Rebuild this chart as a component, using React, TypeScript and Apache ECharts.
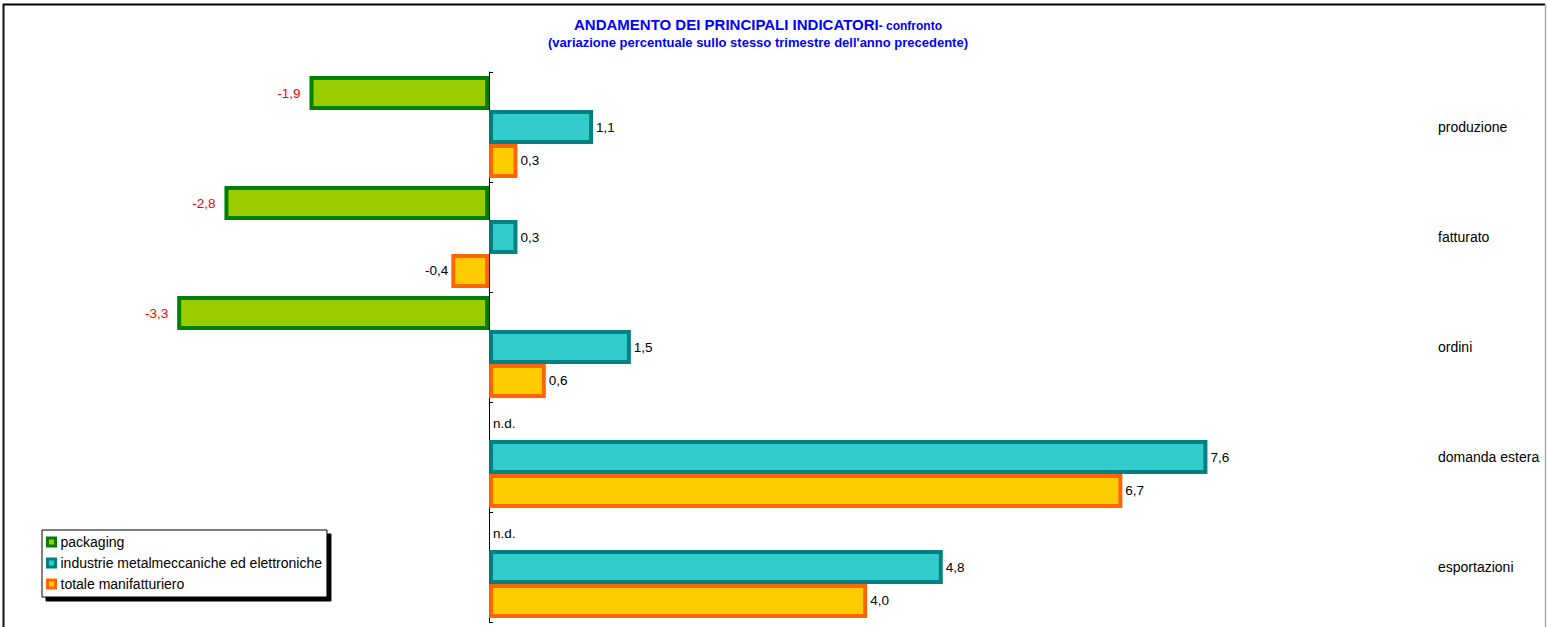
import React, { useEffect, useRef } from "react";
import * as echarts from "echarts";

const categories = ["produzione", "fatturato", "ordini", "domanda estera", "esportazioni"];
const packaging: (number | null)[] = [-1.9, -2.8, -3.3, null, null];
const metalmeccaniche: number[] = [1.1, 0.3, 1.5, 7.6, 4.8];
const totale: number[] = [0.3, -0.4, 0.6, 6.7, 4.0];
const seriesNames = ["packaging", "industrie metalmeccaniche ed elettroniche", "totale manifatturiero"];

const FONT = "'Liberation Sans', Arial, sans-serif";
const LABEL_SIZE = 13.5;
const fmt = (v: number) => v.toFixed(1).replace(".", ",");

function buildData(values: (number | null)[], negColor: string, negDistance: number) {
  return values.map((v) => {
    if (v === null) {
      return {
        value: 0,
        itemStyle: { color: "transparent", borderWidth: 0 },
        label: { show: true, position: "right", formatter: "n.d.", color: "#000", distance: 4 },
      };
    }
    return {
      value: v,
      label: {
        show: true,
        position: v < 0 ? "left" : "right",
        distance: v < 0 ? negDistance : 3,
        formatter: fmt(v),
        color: v < 0 ? negColor : "#000",
      },
    };
  });
}

export default function App() {
  const ref = useRef<HTMLDivElement>(null);
  useEffect(() => {
    if (!ref.current) return;
    const chart = echarts.init(ref.current, undefined, { renderer: "svg" });
    const styles = [
      { color: "#99CC00", borderColor: "#008000" },
      { color: "#33CCCC", borderColor: "#008080" },
      { color: "#FFCC00", borderColor: "#FF6600" },
    ];
    const datas = [
      buildData(packaging, "#FF0000", 9),
      buildData(metalmeccaniche, "#000", 3),
      buildData(totale, "#000", 3),
    ];
    chart.setOption({
      animation: false,
      backgroundColor: "#fff",
      textStyle: { fontFamily: FONT },
      title: {
        left: 758,
        textAlign: "center",
        top: 14,
        padding: 0,
        itemGap: 5,
        text: "{a|ANDAMENTO DEI PRINCIPALI INDICATORI}{b|- confronto}",
        subtext: "(variazione percentuale sullo stesso trimestre dell'anno precedente)",
        textStyle: {
          rich: {
            a: { fontSize: 15, fontWeight: "bold", color: "#0000FF", fontFamily: FONT, lineHeight: 18, verticalAlign: "bottom" },
            b: { fontSize: 12, fontWeight: "bold", color: "#0000FF", fontFamily: FONT, lineHeight: 15, verticalAlign: "bottom" },
          },
        },
        subtextStyle: { fontSize: 13, fontWeight: "bold", color: "#0000FF", fontFamily: FONT, lineHeight: 16 },
      },
      legend: {
        orient: "vertical",
        left: 42,
        top: 530,
        padding: [4, 5, 5, 4],
        itemGap: 5,
        itemWidth: 8,
        itemHeight: 8,
        backgroundColor: "#fff",
        borderColor: "#000",
        borderWidth: 1,
        borderRadius: 0,
        shadowColor: "#000",
        shadowOffsetX: 4,
        shadowOffsetY: 4,
        shadowBlur: 0,
        textStyle: { fontSize: 14, color: "#000", fontFamily: FONT, lineHeight: 16 },
        data: seriesNames.map((n, i) => ({
          name: n,
          icon: "rect",
          itemStyle: { color: styles[i].color, borderColor: styles[i].borderColor, borderWidth: 3 },
        })),
      },
      grid: { left: 16.5, right: 160, top: 72, bottom: 5, containLabel: false },
      xAxis: {
        type: "value",
        min: -5,
        max: 9.5,
        axisLabel: { show: false },
        axisLine: { show: false },
        axisTick: { show: false },
        splitLine: { show: false },
      },
      yAxis: [
        {
          type: "category",
          data: categories,
          inverse: true,
          axisLine: { show: true, onZero: true, lineStyle: { color: "#000", width: 1 } },
          axisTick: { show: true, inside: true, length: 4, lineStyle: { color: "#000" } },
          axisLabel: { show: false },
        },
        {
          type: "category",
          data: categories,
          inverse: true,
          position: "right",
          axisLine: { show: false },
          axisTick: { show: false },
          axisLabel: { show: true, margin: 51, align: "left", fontSize: 14, color: "#000", fontFamily: FONT },
        },
      ],
      series: seriesNames.map((n, i) => ({
        name: n,
        type: "bar",
        yAxisIndex: 0,
        barGap: "0%",
        barCategoryGap: "7.3%",
        itemStyle: { color: styles[i].color, borderColor: styles[i].borderColor, borderWidth: 4 },
        label: { fontSize: LABEL_SIZE, fontFamily: FONT },
        data: datas[i],
      })),
      graphic: [
        { type: "line", shape: { x1: 3.5, y1: 4, x2: 3.5, y2: 627 }, style: { stroke: "#111", lineWidth: 2 } },
        { type: "line", shape: { x1: 3, y1: 4.5, x2: 1545, y2: 4.5 }, style: { stroke: "#000", lineWidth: 2 } },
        { type: "line", shape: { x1: 1545.5, y1: 4, x2: 1545.5, y2: 627 }, style: { stroke: "#aaa", lineWidth: 1.5 } },
      ],
    });
    return () => chart.dispose();
  }, []);
  return (
    <div
      ref={ref}
      style={{ position: "fixed", left: 0, top: 0, width: 1547, height: 627 }}
    />
  );
}
